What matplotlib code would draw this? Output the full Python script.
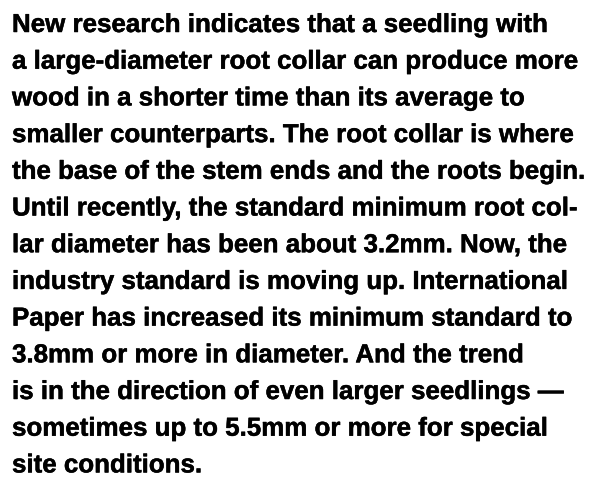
import matplotlib
matplotlib.use("Agg")
import matplotlib.pyplot as plt
import matplotlib.patheffects as pe

lines = [
    "New research indicates that a seedling with",
    "a large-diameter root collar can produce more",
    "wood in a shorter time than its average to",
    "smaller counterparts. The root collar is where",
    "the base of the stem ends and the roots begin.",
    "Until recently, the standard minimum root col-",
    "lar diameter has been about 3.2mm. Now, the",
    "industry standard is moving up. International",
    "Paper has increased its minimum standard to",
    "3.8mm or more in diameter. And the trend",
    "is in the direction of even larger seedlings \u2014",
    "sometimes up to 5.5mm or more for special",
    "site conditions.",
]

W, H = 589, 483
fig = plt.figure(figsize=(W / 100, H / 100), dpi=100)
fig.patch.set_facecolor("white")

family = ["Liberation Sans", "DejaVu Sans"]
x0 = 12
base0 = 32
step = 36.7
target_w = 566  # width of line 2 in pixels

probe = fig.text(0, 0, lines[1], fontsize=10, fontweight="bold", family=family)
fig.canvas.draw()
w = probe.get_window_extent().width
probe.remove()
fs = 10 * target_w / w

effects = [pe.withStroke(linewidth=0.35, foreground="black")]
for i, s in enumerate(lines):
    y = base0 + step * i
    fig.text(x0 / W, 1 - y / H, s, fontsize=fs, fontweight="bold",
             family=family, color="black", va="baseline", ha="left",
             path_effects=effects)

fig.savefig("out.png", dpi=100, facecolor="white")
